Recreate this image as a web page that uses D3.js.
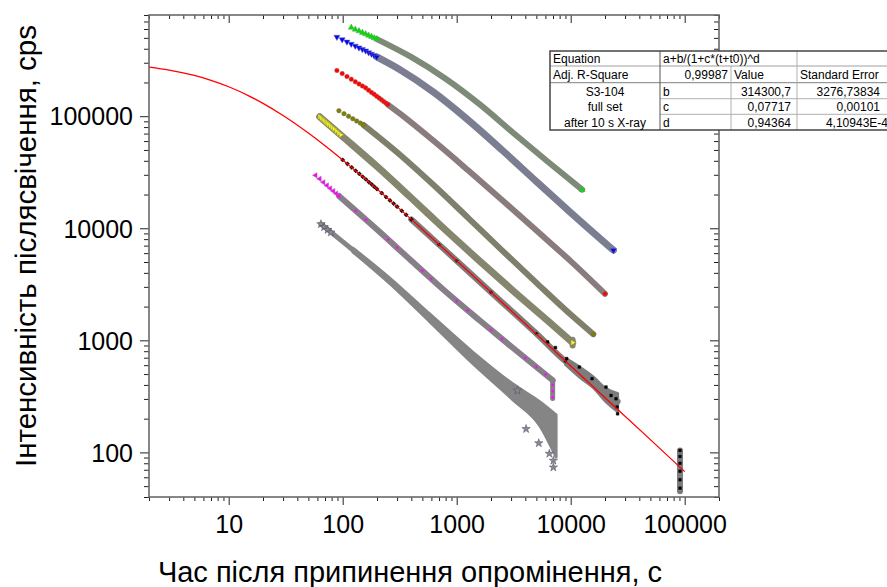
<!DOCTYPE html>
<html>
<head>
<meta charset="utf-8">
<script src="https://cdn.jsdelivr.net/npm/d3@7"></script>
<style>
  body { margin: 0; background: #fff; }
  text { font-family: "Liberation Sans", Arial, sans-serif; }
</style>
</head>
<body>
<div id="chart"></div>
<script>
// axis ticks
var xMajor = [10, 100, 1000, 10000, 100000];
var xTickLabels = ["10", "100", "1000", "10000", "100000"];
var yMajor = [100, 1000, 10000, 100000];
var yTickLabels = ["100", "1000", "10000", "100000"];

// series: [t, cps]
var greenEarly = [[119,618000],[129,595000],[139,575000],[149,557000],[159,541000],[169,526000],[179,512000],[189,499000],[199,488000]];
var greenBand = [[199,488000],[398,338000],[794,217000],[1585,128000],[3162,70500],[6310,39200],[12600,22100]];

var blueEarly = [[89,509000],[99,483000],[109,461000],[119,441000],[129,424000],[139,409000],[149,395000],[159,384000],[169,370000],[179,359000],[189,348000],[199,338000]];
var blueBand = [[199,338000],[316,261000],[631,163000],[1259,92500],[2512,49700],[5012,26100],[10000,13800],[23700,6370]];

var redEarly = [[89,256000],[99,240000],[109,226000],[119,214000],[129,203000],[139,194000],[149,186000],[159,179000],[169,170500],[179,163000],[189,157000],[199,150500],[209,145000],[219,140000],[229,135000],[239,131000],[249,127000]];
var redBand = [[249,127000],[316,106000],[631,60000],[1259,32900],[2512,17800],[5012,9550],[10000,5090],[20000,2600]];

var oliveEarly = [[92.7,112000],[102.7,105400],[112.7,99800],[122.7,94900],[132.7,90600],[142.7,86800],[152.7,83400]];
var oliveBand = [[152.7,83400],[316,45600],[631,24200],[1259,12400],[2512,6320],[5012,3260],[10000,1700],[15800,1135]];

var yellowEarly = [[62.8,99000],[65,96100],[67,93500],[69,91200],[71,88900],[73,86800],[75,84700],[78,81900],[81,79200],[84,76700],[88,73600],[92,70800],[96,68200]];
var yellowBand = [[62.8,99000],[100,65800],[200,35600],[398,18700],[794,9700],[1585,5110],[3162,2740],[6310,1490],[10400,955]];
var yellowSpread = [[10400,900,1010]];

var blackEarly = [[100,40700],[110,37600],[120,34900],[130,32600],[140,30600],[150,28800],[160,27300],[170,25800],[180,24600],[190,23400],[200,22400],[220,20600],[240,19000],[260,17700],[280,16600],[300,15600],[330,14300],[360,13200],[400,12000]];
var blackBand = [[400,12000],[700,7150],[1000,5130],[2000,2690],[5000,1150],[9000,650],[12000,520],[16000,415],[20000,330],[25800,285]];
var blackSpread = [[9000,610,690],[12000,470,575],[16000,375,465],[20000,290,375],[25800,232,336]];
var blackLate = [[6280,968],[7350,862],[9230,687],[11900,578],[15400,455],[20400,383],[22600,322],[25000,301],[25500,254],[25800,221]];
var blackFar = [[91000,45,104]];
var blackFarDots = [[91000,104],[91000,92],[91000,80],[91000,68],[91000,57],[91000,48]];

var magentaEarly = [[57.8,29700],[62.8,27600],[67.8,25700],[72.8,24100],[77.8,22700],[82.8,21500],[87.8,20400],[92.8,19400]];
var magentaBand = [[92.8,19400],[200,9750],[398,5160],[794,2740],[1585,1510],[3162,845],[6950,440]];
var magentaDots = [[130,14300],[160,11900],[250,7930],[300,6700],[500,4190],[600,3540],[1000,2240],[1250,1850],[2000,1240],[2500,1030],[4000,695],[5000,578],[6000,497],[6950,400],[6950,350],[6950,310]];
var magentaSpread = [[6950,303,440]];

var starsEarly = [[64.5,10900],[68.7,10250],[73.7,9690],[78.7,9190]];
var starsBand = [[64.5,10900],[123,6400],[260,3380],[583,1580],[1390,695],[3120,346],[5380,220]];
var starsSpread = [[123,6150,6650],[260,3200,3580],[583,1460,1710],[1390,618,782],[3120,294,407],[5380,172,282],[7450,91,216]];
var starsOut = [[3410,357],[4060,162],[5250,121],[6500,97.5],[7050,84.5],[7050,73.6]];

// fit curve a+b/(1+c*(t+t0))^d
var fitT = [2,3,5,7,10,15,20,30,50,70,100,150,200,300,500,700,1000,2000,5000,10000,20000,50000,100000];
var fitI = [274500,258200,231000,209100,183200,152100,130300,101400,70700,54500,40700,28800,22400,15600,9770,7160,5140,2690,1136,591,308,130,67.4];

// fit table
var tableRows = [
  ["Equation", "a+b/(1+c*(t+t0))^d", "", ""],
  ["Adj. R-Square", "0,99987", "Value", "Standard Error"],
  ["S3-104", "b", "314300,7", "3276,73834"],
  ["full set", "c", "0,07717", "0,00101"],
  ["after 10 s X-ray", "d", "0,94364", "4,10943E-4"]
];

var W = 887, H = 587;
var plot = {left: 149, right: 719, top: 15, bottom: 497};

var svg = d3.select("#chart").append("svg")
  .attr("width", W).attr("height", H);

var x = d3.scaleLog().domain([2, 200000]).range([plot.left, plot.right]);
var y = d3.scaleLog().domain([40, 800000]).range([plot.bottom, plot.top]);

var line = d3.line()
  .x(function(d) { return x(d[0]); })
  .y(function(d) { return y(d[1]); })
  .curve(d3.curveMonotoneX);

var area = d3.area()
  .x(function(d) { return x(d[0]); })
  .y0(function(d) { return y(d[1]); })
  .y1(function(d) { return y(d[2]); })
  .curve(d3.curveMonotoneX);

var series = [
  {early: starsEarly, band: starsBand, spread: starsSpread, color: "#8a8a8a", edge: "#4a4a6a", bandColor: "#858585", sym: d3.symbolStar, rot: 0, size: 22, w: 5, dots: "none"},
  {early: magentaEarly, band: magentaBand, spread: magentaSpread, color: "#ff00ff", edge: "#a070a0", bandColor: "#877f88", sym: d3.symbolTriangle, rot: -90, size: 12, w: 6, dots: "none"},
  {early: blackEarly, band: blackBand, spread: blackSpread, color: "#000", edge: "#000", bandColor: "#7c7c7c", sym: d3.symbolSquare, rot: 45, size: 9, w: 6, dots: "none"},
  {early: yellowEarly, band: yellowBand, spread: yellowSpread, color: "#ffff00", edge: "#999960", bandColor: "#86866f", sym: d3.symbolTriangle, rot: 90, size: 12, w: 7, dots: "ends"},
  {early: oliveEarly, band: oliveBand, spread: null, color: "#808000", edge: "#707050", bandColor: "#7f7f6c", sym: d3.symbolCircle, rot: 0, size: 16, w: 6, dots: "ends"},
  {early: redEarly, band: redBand, spread: null, color: "#ff0000", edge: "#a06060", bandColor: "#8a7c7c", sym: d3.symbolCircle, rot: 0, size: 16, w: 6, dots: "ends"},
  {early: blueEarly, band: blueBand, spread: null, color: "#0000ff", edge: "#6a6a9a", bandColor: "#7a7e90", sym: d3.symbolTriangle, rot: 180, size: 16, w: 7, dots: "ends"},
  {early: greenEarly, band: greenBand, spread: null, color: "#00e000", edge: "#6a9a6a", bandColor: "#7e8a78", sym: d3.symbolTriangle, rot: 0, size: 16, w: 6, dots: "ends"}
];

var data = svg.append("g");

function drawDots(g, pts, s) {
  g.selectAll(null).data(pts).enter().append("path")
    .attr("d", d3.symbol().type(s.sym).size(s.size))
    .attr("transform", function(d) {
      return "translate(" + x(d[0]) + "," + y(d[1]) + ") rotate(" + s.rot + ")";
    })
    .attr("fill", s.color)
    .attr("stroke", s.edge)
    .attr("stroke-width", 0.5);
}

series.forEach(function(s) {
  var g = data.append("g");
  if (s.spread) {
    if (s.spread.length > 1) {
      g.append("path").attr("d", area(s.spread))
        .attr("fill", s.bandColor).attr("stroke", s.bandColor)
        .attr("stroke-width", 3).attr("stroke-linejoin", "round");
    } else {
      var sp = s.spread[0];
      g.append("path").attr("d", line([[sp[0], sp[1]], [sp[0], sp[2]]]))
        .attr("stroke", s.bandColor).attr("stroke-width", s.w - 1)
        .attr("stroke-linecap", "round");
    }
  }
  g.append("path").attr("d", line(s.band))
    .attr("fill", "none").attr("stroke", s.bandColor)
    .attr("stroke-width", s.w)
    .attr("stroke-linecap", "round").attr("stroke-linejoin", "round");
  drawDots(g, s.early, s);
  if (s.dots === "ends") drawDots(g, [s.band[s.band.length - 1]], s);
});

// extra pieces of the noisy tails
var starStyle = series[0];
data.append("path").attr("d", line([[blackFar[0][0], blackFar[0][1]], [blackFar[0][0], blackFar[0][2]]]))
  .attr("stroke", "#7c7c7c").attr("stroke-width", 6).attr("stroke-linecap", "round");
var smallBlack = {sym: d3.symbolSquare, size: 7, rot: 0, color: "#000", edge: "#000"};
drawDots(data.append("g"), blackFarDots, smallBlack);
drawDots(data.append("g"), blackLate, smallBlack);
drawDots(data.append("g"), blackBand.slice(1, 6), {sym: d3.symbolSquare, size: 5, rot: 45, color: "#000", edge: "#000"});
drawDots(data.append("g"), magentaDots, {sym: d3.symbolSquare, size: 5, rot: 45, color: "#ff00ff", edge: "#c050c0"});
drawDots(data.append("g"), starsOut, starStyle);

// fit line
svg.append("path")
  .attr("d", d3.line()
    .x(function(d, i) { return x(fitT[i]); })
    .y(function(d, i) { return y(fitI[i]); })
    .curve(d3.curveMonotoneX)(fitT))
  .attr("fill", "none").attr("stroke", "#ff0000").attr("stroke-width", 1.3);

// axes
var minorX = x.ticks().filter(function(v) { return xMajor.indexOf(v) < 0 && Math.abs(Math.log10(v) % 1) > 1e-6; });
var minorY = y.ticks().filter(function(v) { return yMajor.indexOf(v) < 0 && Math.abs(Math.log10(v) % 1) > 1e-6; });

function axisG(gen, tr) {
  var g = svg.append("g").attr("transform", tr).call(gen);
  g.select(".domain").remove();
  g.selectAll(".tick line").attr("stroke", "#222");
  return g;
}

var fmtX = function(d) { return xTickLabels[xMajor.indexOf(d)]; };
var fmtY = function(d) { return yTickLabels[yMajor.indexOf(d)]; };

var bx = axisG(d3.axisBottom(x).tickValues(xMajor).tickSize(8).tickFormat(fmtX), "translate(0," + plot.bottom + ")");
bx.selectAll("text").attr("y", 36).attr("dy", null).attr("font-size", 25).attr("fill", "#000");
axisG(d3.axisBottom(x).tickValues(minorX).tickSize(4).tickFormat(""), "translate(0," + plot.bottom + ")");
axisG(d3.axisTop(x).tickValues(xMajor).tickSize(-8).tickFormat(""), "translate(0," + plot.top + ")");
axisG(d3.axisTop(x).tickValues(minorX).tickSize(-4).tickFormat(""), "translate(0," + plot.top + ")");

var ly = axisG(d3.axisLeft(y).tickValues(yMajor).tickSize(9).tickFormat(fmtY), "translate(" + plot.left + ",0)");
ly.selectAll("text").attr("x", -16).attr("dy", "0.35em").attr("font-size", 25).attr("fill", "#000");
axisG(d3.axisLeft(y).tickValues(minorY).tickSize(5).tickFormat(""), "translate(" + plot.left + ",0)");
axisG(d3.axisRight(y).tickValues(yMajor).tickSize(-9).tickFormat(""), "translate(" + plot.right + ",0)");
axisG(d3.axisRight(y).tickValues(minorY).tickSize(-5).tickFormat(""), "translate(" + plot.right + ",0)");

svg.append("rect")
  .attr("x", plot.left).attr("y", plot.top)
  .attr("width", plot.right - plot.left).attr("height", plot.bottom - plot.top)
  .attr("fill", "none").attr("stroke", "#6a6a6a").attr("stroke-width", 1.6);

// titles
svg.append("text")
  .attr("x", 410).attr("y", 582)
  .attr("text-anchor", "middle").attr("font-size", 29)
  .text("Час після припинення опромінення, с");

svg.append("text")
  .attr("transform", "translate(36,246) rotate(-90)")
  .attr("text-anchor", "middle").attr("font-size", 29.5)
  .text("Інтенсивність післясвічення, cps");

// fit table
var colX = [550, 660, 731, 797, 900];
var rowY = [51, 66, 82.7, 98.7, 114.3, 130];
var tb = svg.append("g").attr("font-size", 12);
tb.append("rect").attr("x", colX[0]).attr("y", rowY[0])
  .attr("width", colX[4] - colX[0]).attr("height", rowY[5] - rowY[0])
  .attr("fill", "#fff");

function hline(yv, x0, x1, c) {
  tb.append("line").attr("x1", x0).attr("x2", x1).attr("y1", yv).attr("y2", yv)
    .attr("stroke", c).attr("stroke-width", 1);
}
function vline(xv, y0, y1, c) {
  tb.append("line").attr("x1", xv).attr("x2", xv).attr("y1", y0).attr("y2", y1)
    .attr("stroke", c).attr("stroke-width", 1);
}
hline(rowY[1], colX[0], colX[4], "#a0a0a0");
hline(rowY[2], colX[0], colX[4], "#808080");
hline(rowY[3], colX[1], colX[4], "#b0b0b0");
hline(rowY[4], colX[1], colX[4], "#b0b0b0");
vline(colX[1], rowY[0], rowY[5], "#555");
vline(colX[2], rowY[1], rowY[5], "#b0b0b0");
vline(colX[3], rowY[0], rowY[5], "#b0b0b0");

tb.append("rect").attr("x", colX[0]).attr("y", rowY[0])
  .attr("width", colX[4] - colX[0]).attr("height", rowY[5] - rowY[0])
  .attr("fill", "none").attr("stroke", "#444").attr("stroke-width", 1.5);

var base = [63, 79, 95.5, 111, 126.5];
var col4Right = [0, 0, 880, 880, 888];
tableRows.forEach(function(r, i) {
  var by = base[i];
  if (i < 2) tb.append("text").attr("x", 553).attr("y", by).text(r[0]);
  else tb.append("text").attr("x", (colX[0] + colX[1]) / 2).attr("y", by).attr("text-anchor", "middle").text(r[0]);
  if (i === 1) tb.append("text").attr("x", 728).attr("y", by).attr("text-anchor", "end").text(r[1]);
  else tb.append("text").attr("x", 663).attr("y", by).text(r[1]);
  if (i === 1) {
    tb.append("text").attr("x", 734).attr("y", by).text(r[2]);
    tb.append("text").attr("x", 800).attr("y", by).text(r[3]);
  } else if (i > 1) {
    tb.append("text").attr("x", 791).attr("y", by).attr("text-anchor", "end").text(r[2]);
    tb.append("text").attr("x", col4Right[i]).attr("y", by).attr("text-anchor", "end").text(r[3]);
  }
});
</script>
</body>
</html>
